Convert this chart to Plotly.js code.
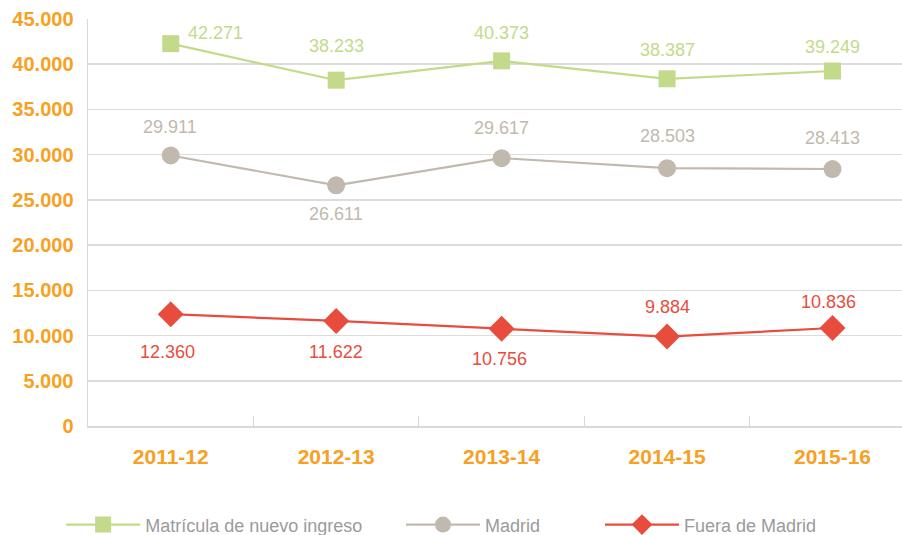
<!DOCTYPE html>
<html>
<head>
<meta charset="utf-8">
<script src="https://cdn.plot.ly/plotly-3.0.1.min.js"></script>
<style>html,body{margin:0;padding:0;background:#fff;}#chart{width:902px;height:535px;}</style>
</head>
<body>
<div id="chart"></div>
<script>
var categories = ["2011-12", "2012-13", "2013-14", "2014-15", "2015-16"];
var seriesNames = ["Matrícula de nuevo ingreso", "Madrid", "Fuera de Madrid"];
var nuevoIngreso = [42271, 38233, 40373, 38387, 39249];
var madrid = [29911, 26611, 29617, 28503, 28413];
var fueraMadrid = [12360, 11622, 10756, 9884, 10836];
var yTickValues = [0, 5000, 10000, 15000, 20000, 25000, 30000, 35000, 40000, 45000];

var GREEN = "#C3DA8A", GRAY = "#C1B9AE", RED = "#E84C3D", ORANGE = "#F7A022";
var FONT = "Liberation Sans, Arial, sans-serif";

function fmt(v) {
  return String(v).replace(/\B(?=(\d{3})+(?!\d))/g, ".");
}

var series = [
  {name: seriesNames[0], y: nuevoIngreso, color: GREEN, symbol: "square", size: 17, legend: "legend",
   shifts: [[45, 11], [0, 34], [0, 28], [0, 29], [0, 24]]},
  {name: seriesNames[1], y: madrid, color: GRAY, symbol: "circle", size: 18, legend: "legend2",
   shifts: [[-1, 28], [0, -29], [0, 30], [0, 32], [0, 31]]},
  {name: seriesNames[2], y: fueraMadrid, color: RED, symbol: "diamond", size: 20, legend: "legend3",
   shifts: [[-3, -38], [0, -31], [-2, -30], [0, 30], [-4, 26]]}
];

var traces = series.map(function (s) {
  return {
    type: "scatter", mode: "lines+markers", name: s.name,
    x: categories, y: s.y, legend: s.legend,
    line: {color: s.color, width: 2.2},
    marker: {color: s.color, symbol: s.symbol, size: s.size, line: {width: 0}},
    hoverinfo: "skip"
  };
});

var annotations = [];
series.forEach(function (s) {
  s.y.forEach(function (v, i) {
    annotations.push({
      x: categories[i], y: v, xref: "x", yref: "y",
      text: fmt(v), showarrow: false,
      xshift: s.shifts[i][0], yshift: s.shifts[i][1],
      font: {family: FONT, size: 18, color: s.color}
    });
  });
});

function legendAt(x) {
  return {
    orientation: "h", x: x, xanchor: "left", y: -0.243, yanchor: "middle",
    font: {family: FONT, size: 18, color: "#9B9B9B"},
    itemwidth: 74, itemclick: false, itemdoubleclick: false,
    bgcolor: "rgba(0,0,0,0)"
  };
}

var layout = {
  width: 902, height: 535,
  margin: {l: 88, r: 0, t: 19, b: 109, pad: 0, autoexpand: false},
  paper_bgcolor: "#fff", plot_bgcolor: "#fff",
  separators: ",.",
  showlegend: true,
  legend: legendAt(-0.033),
  legend2: legendAt(0.3845),
  legend3: legendAt(0.629),
  xaxis: {
    type: "category", range: [-0.5, 4.42],
    showgrid: false, showline: true, linecolor: "#D9D9D9", linewidth: 2,
    ticks: "inside", tickson: "boundaries", ticklen: 10, tickcolor: "#D9D9D9", tickwidth: 1,
    tickfont: {family: FONT, size: 21, color: ORANGE, weight: "bold"},
    ticklabelstandoff: 11,
    zeroline: false, fixedrange: true
  },
  yaxis: {
    range: [0, 45000], tickmode: "array", tickvals: yTickValues,
    tickformat: ",d",
    showgrid: true, gridcolor: "#DCDCDC", gridwidth: 1.5,
    showline: true, linecolor: "#D9D9D9", linewidth: 1.5,
    zeroline: false, ticks: "",
    tickfont: {family: FONT, size: 20, color: ORANGE, weight: "bold"},
    ticklabelstandoff: 9, fixedrange: true
  },
  annotations: annotations
};

Plotly.newPlot("chart", traces, layout, {displayModeBar: false, staticPlot: true});
</script>
</body>
</html>
